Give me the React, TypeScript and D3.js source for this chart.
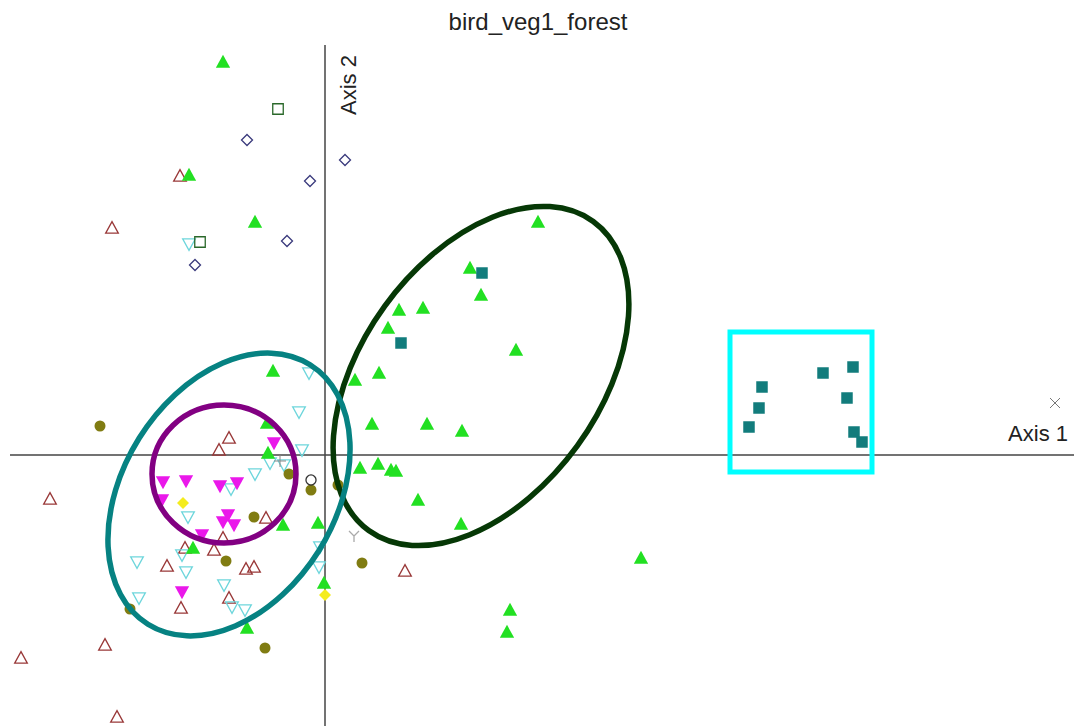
import React from "react";
import * as d3 from "d3";

// ---- data (Axis 1, Axis 2 scores) ----
const greenTri: [number, number][] = [
  [-1.02, 3.93], [-1.36, 2.8], [-0.7, 2.33], [-0.52, 0.84], [-0.58, 0.32], [-0.57, 0.02],
  [-0.42, -0.7], [-0.07, -0.68], [-1.32, -0.93], [-0.01, -1.28], [-0.78, -1.73],
  [2.13, 2.33], [1.45, 1.87], [1.56, 1.6], [0.74, 1.45], [0.98, 1.47], [0.63, 1.27],
  [1.91, 1.05], [0.54, 0.82], [0.3, 0.75], [0.47, 0.31], [1.02, 0.31], [1.37, 0.24],
  [0.35, -0.13], [0.53, -0.09], [0.66, -0.15], [0.71, -0.16], [0.93, -0.45], [1.36, -0.69],
  [3.16, -1.03], [1.85, -1.55], [1.82, -1.77],
];
const tealSquares: [number, number][] = [
  [1.57, 1.82], [0.76, 1.12], [4.37, 0.68], [4.34, 0.47], [4.24, 0.28], [4.98, 0.82],
  [5.28, 0.88], [5.22, 0.57], [5.29, 0.23], [5.37, 0.13],
];
const magentaDown: [number, number][] = [
  [-0.51, 0.12], [-1.62, -0.27], [-1.39, -0.26], [-1.05, -0.31], [-0.88, -0.28],
  [-1.63, -0.45], [-0.97, -0.6], [-1.02, -0.67], [-0.91, -0.7], [-1.23, -0.8], [-1.43, -1.37],
];
const cyanDown: [number, number][] = [
  [-0.26, 0.43], [-0.23, 0.05], [-0.55, -0.08], [-0.41, -0.1], [-0.7, -0.19], [-0.94, -0.34],
  [-1.37, -0.62], [-0.05, -0.92], [-0.16, 0.82], [-1.88, -1.07], [-1.43, -1.0], [-1.39, -1.17],
  [-1.01, -1.3], [-1.86, -1.43], [-0.93, -1.52], [-0.8, -1.55], [-0.06, -1.12], [-1.36, 2.11],
];
const brownUp: [number, number][] = [
  [-0.96, 0.17], [-1.06, 0.05], [-0.59, -0.63], [-1.02, -0.83], [-1.4, -0.93], [-1.11, -0.95],
  [-1.58, -1.11], [-0.79, -1.14], [-0.71, -1.12], [-0.96, -1.43], [-1.44, -1.53], [-2.2, -1.9],
  [-1.45, 2.79], [-2.13, 2.27], [-2.75, -0.44], [-3.04, -2.03], [-2.08, -2.62], [0.8, -1.16],
];
const oliveDots: [number, number][] = [
  [-2.25, 0.29], [-0.36, -0.19], [-0.14, -0.35], [-0.71, -0.62], [-0.99, -1.06],
  [-1.95, -1.54], [-0.6, -1.93], [0.37, -1.08], [0.13, -0.3],
];
const openCircle: [number, number][] = [[-0.14, -0.25]];
const yellowDiamonds: [number, number][] = [[-1.42, -0.48], [0.0, -1.4]];
const blueDiamonds: [number, number][] = [
  [-0.78, 3.15], [-0.15, 2.74], [0.2, 2.95], [-0.38, 2.14], [-1.3, 1.9],
];
const greenOpenSquares: [number, number][] = [[-0.47, 3.46], [-1.25, 2.13]];
const grayY: [number, number][] = [[0.29, -0.81]];
const grayPlus: [number, number][] = [[-0.45, -0.06]];
const grayX: [number, number][] = [[7.3, 0.52]];

// group outlines: [cx, cy, rx, ry, angleDeg]
const ellipses: { name: string; cx: number; cy: number; rx: number; ry: number; angle: number }[] = [
  { name: "forest", cx: 1.56, cy: 0.79, rx: 1.91, ry: 1.19, angle: 54 },
  { name: "teal", cx: -0.96, cy: -0.395, rx: 1.53, ry: 1.06, angle: 58 },
  { name: "purple", cx: -1.01, cy: -0.19, rx: 0.72, ry: 0.69, angle: 0 },
];
const box = { x0: 4.05, x1: 5.47, y0: -0.17, y1: 1.23 };

const title = "bird_veg1_forest";

const W = 1074;
const H = 726;
const x = d3.scaleLinear().domain([-3.15, 7.49]).range([10, 1074]);
const y = d3.scaleLinear().domain([4.55, -2.71]).range([0, 726]);

const triUp = (s: number) => `M0,${-s * 0.55}L${s * 0.55},${s * 0.45}L${-s * 0.55},${s * 0.45}Z`;
const triDown = (s: number) => `M0,${s * 0.55}L${s * 0.55},${-s * 0.45}L${-s * 0.55},${-s * 0.45}Z`;
const square = (s: number) => `M${-s / 2},${-s / 2}h${s}v${s}h${-s}Z`;
const diamond = (s: number) => `M0,${-s / 2}L${s / 2},0L0,${s / 2}L${-s / 2},0Z`;

function Marks({ data, d, fill, stroke, sw = 1.3 }: { data: [number, number][]; d: string; fill: string; stroke: string; sw?: number }) {
  return (
    <g>
      {data.map((p, i) => (
        <path key={i} d={d} transform={`translate(${x(p[0])},${y(p[1])})`} fill={fill} stroke={stroke} strokeWidth={sw} />
      ))}
    </g>
  );
}

export default function App() {
  const ellColors: Record<string, string> = { forest: "#063806", teal: "#068282", purple: "#820082" };
  const x0 = x(0);
  const y0 = y(0);
  return (
    <svg width={W} height={H} style={{ position: "absolute", left: 0, top: 0, background: "#fff" }} fontFamily="Liberation Sans, Arial, sans-serif">
      <rect width={W} height={H} fill="#fff" />
      <text x={538} y={30} textAnchor="middle" fontSize={24} fill="#222">{title}</text>
      {/* axes */}
      <line x1={10} x2={W} y1={y0} y2={y0} stroke="#444" strokeWidth={1.5} />
      <line x1={x0} x2={x0} y1={45} y2={H} stroke="#444" strokeWidth={1.5} />
      <text x={1068} y={441} textAnchor="end" fontSize={22} fill="#222">Axis 1</text>
      <text transform={`translate(356,115) rotate(-90)`} textAnchor="start" fontSize={22} fill="#222">Axis 2</text>

      {/* markers */}
      <Marks data={brownUp} d={triUp(11.5)} fill="none" stroke="#993838" />
      <Marks data={cyanDown} d={triDown(11.5)} fill="none" stroke="#6ed6dc" />
      <Marks data={blueDiamonds} d={diamond(11)} fill="none" stroke="#3a3a7c" />
      <Marks data={greenOpenSquares} d={square(10.5)} fill="none" stroke="#2a682a" />
      <Marks data={oliveDots} d={d3.symbol(d3.symbolCircle, 95)()!} fill="#807c12" stroke="none" />
      <Marks data={openCircle} d={d3.symbol(d3.symbolCircle, 80)()!} fill="none" stroke="#333" />
      <Marks data={yellowDiamonds} d={diamond(12)} fill="#f4ec1e" stroke="none" />
      <Marks data={magentaDown} d={triDown(13)} fill="#ea18ea" stroke="none" />
      <Marks data={greenTri} d={triUp(13)} fill="#22e022" stroke="none" />
      <Marks data={tealSquares} d={square(11.5)} fill="#127c7c" stroke="none" />
      <Marks data={grayY} d="M0,0L0,6M0,0L-5,-5M0,0L5,-5" fill="none" stroke="#aaa" />
      <Marks data={grayPlus} d="M-6,0H6M0,-6V6" fill="none" stroke="#888" sw={1} />
      <Marks data={grayX} d="M-5,-5L5,5M5,-5L-5,5" fill="none" stroke="#777" sw={1} />

      {/* group outlines */}
      {ellipses.map((e) => (
        <ellipse
          key={e.name}
          cx={x(e.cx)}
          cy={y(e.cy)}
          rx={x(e.rx) - x(0)}
          ry={y(0) - y(e.ry)}
          transform={`rotate(${-e.angle},${x(e.cx)},${y(e.cy)})`}
          fill="none"
          stroke={ellColors[e.name]}
          strokeWidth={5.5}
        />
      ))}
      <rect x={x(box.x0)} y={y(box.y1)} width={x(box.x1) - x(box.x0)} height={y(box.y0) - y(box.y1)} fill="none" stroke="#00ffff" strokeWidth={5} />
    </svg>
  );
}
